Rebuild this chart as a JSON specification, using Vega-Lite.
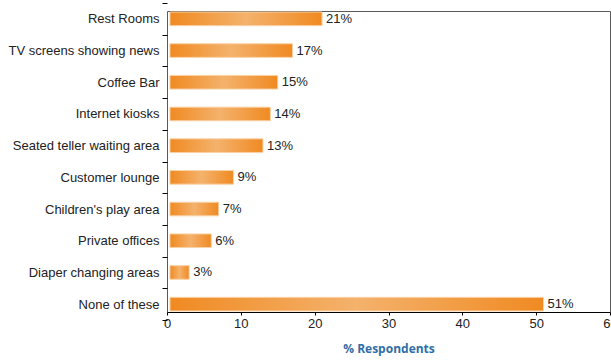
{
  "$schema": "https://vega.github.io/schema/vega-lite/v6.json",
  "autosize": {"type": "none"},
  "padding": {"left": 167, "top": 11, "right": 1, "bottom": 48},
  "width": 443,
  "height": 301,
  "background": "white",
  "config": {
    "view": {"stroke": "#5a5a5a", "strokeWidth": 1},
    "font": "Liberation Sans"
  },
  "data": {
    "values": [
      {"amenity": "Rest Rooms", "value": 21, "label": "21%"},
      {"amenity": "TV screens showing news", "value": 17, "label": "17%"},
      {"amenity": "Coffee Bar", "value": 15, "label": "15%"},
      {"amenity": "Internet kiosks", "value": 14, "label": "14%"},
      {"amenity": "Seated teller waiting area", "value": 13, "label": "13%"},
      {"amenity": "Customer lounge", "value": 9, "label": "9%"},
      {"amenity": "Children's play area", "value": 7, "label": "7%"},
      {"amenity": "Private offices", "value": 6, "label": "6%"},
      {"amenity": "Diaper changing areas", "value": 3, "label": "3%"},
      {"amenity": "None of these", "value": 51, "label": "51%"}
    ]
  },
  "encoding": {
    "y": {
      "field": "amenity",
      "type": "nominal",
      "sort": null,
      "scale": {"range": [-8, 309], "paddingInner": 0, "paddingOuter": 0},
      "axis": {
        "title": null,
        "domain": false,
        "ticks": true,
        "tickBand": "extent",
        "tickSize": 5,
        "tickWidth": 1,
        "tickColor": "#000000",
        "labelPadding": 3,
        "labelFont": "Liberation Sans",
        "labelFontSize": 13,
        "labelColor": "#222222"
      }
    }
  },
  "layer": [
    {
      "mark": {
        "type": "bar",
        "height": {"band": 0.43},
        "stroke": "#f9d2a6",
        "strokeWidth": 1,
        "color": {
          "gradient": "linear",
          "x1": 0, "y1": 0, "x2": 1, "y2": 0,
          "stops": [
            {"offset": 0, "color": "#f08a22"},
            {"offset": 0.5, "color": "#f4b26c"},
            {"offset": 1, "color": "#f08a22"}
          ]
        }
      },
      "encoding": {
        "x": {
          "field": "value",
          "type": "quantitative",
          "scale": {"domain": [0, 60], "nice": false},
          "axis": {
            "title": "% Respondents",
            "values": [0, 10, 20, 30, 40, 50, 60],
            "grid": false,
            "domainColor": "#000000",
            "tickColor": "#000000",
            "tickSize": 3,
            "labelPadding": 2,
            "labelFont": "Liberation Sans",
            "labelFontSize": 13,
            "labelColor": "#222222",
            "labelFlush": false,
            "titleFont": "Open Sans",
            "titleFontWeight": "bold",
            "titleFontSize": 12,
            "titleColor": "#2f6ea6",
            "titlePadding": 13
          }
        },
        "x2": {"datum": 0.4}
      }
    },
    {
      "mark": {
        "type": "text",
        "align": "left",
        "baseline": "middle",
        "dx": 4,
        "font": "Liberation Sans",
        "fontSize": 13,
        "color": "#222222"
      },
      "encoding": {
        "x": {"field": "value", "type": "quantitative"},
        "text": {"field": "label", "type": "nominal"}
      }
    },
    {
      "mark": {"type": "rule", "color": "#000000", "strokeWidth": 1},
      "encoding": {
        "x": {"datum": 0}
      }
    }
  ]
}
